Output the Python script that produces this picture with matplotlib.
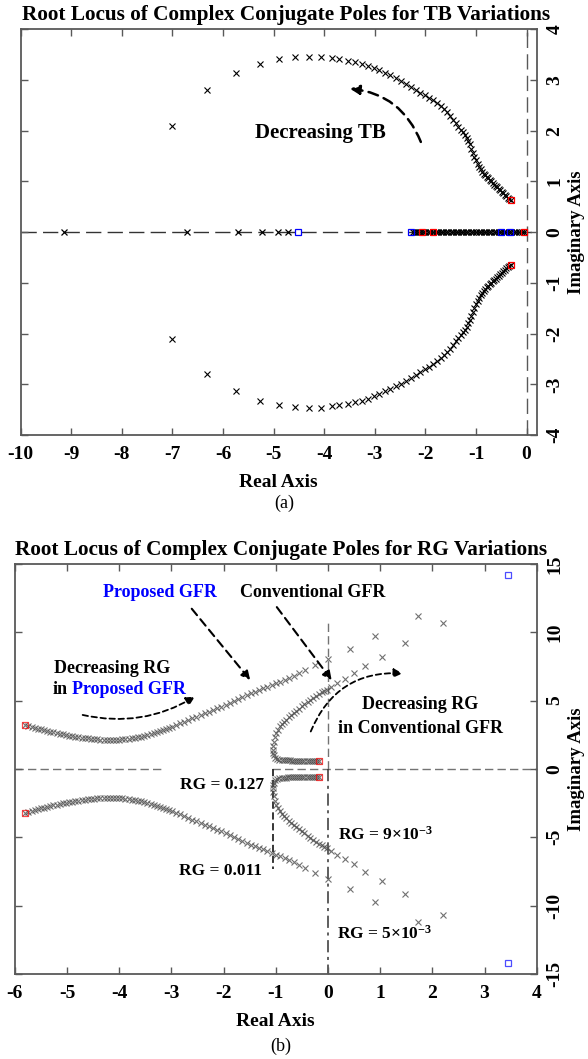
import matplotlib
matplotlib.use('Agg')
import matplotlib.pyplot as plt

plt.rcParams['font.family'] = ['Liberation Serif', 'DejaVu Serif']
plt.rcParams['font.weight'] = 'bold'
plt.rcParams['axes.labelweight'] = 'bold'
plt.rcParams['axes.unicode_minus'] = False
plt.rcParams['mathtext.fontset'] = 'custom'
plt.rcParams['mathtext.rm'] = 'Liberation Serif:bold'
plt.rcParams['mathtext.bf'] = 'Liberation Serif:bold'
plt.rcParams['mathtext.default'] = 'rm'

# ---------- (a) TB variations: upper complex branch (lower one is its conjugate)
tb_re = [-0.31, -0.34, -0.37, -0.40, -0.43, -0.46, -0.49, -0.52, -0.55, -0.58,
         -0.61, -0.64, -0.67, -0.70, -0.73, -0.76, -0.79, -0.82, -0.85, -0.88,
         -0.91, -0.94, -0.97, -1.00, -1.03, -1.06, -1.09, -1.12, -1.15, -1.18,
         -1.22, -1.26, -1.30, -1.35, -1.40, -1.45, -1.51, -1.57, -1.63, -1.70,
         -1.77, -1.85, -1.93, -2.01, -2.10, -2.19, -2.28, -2.38, -2.48, -2.58,
         -2.69, -2.80, -2.91, -3.02, -3.14, -3.26, -3.39, -3.53, -3.70, -3.85,
         -4.06, -4.29, -4.57, -4.90, -5.27, -5.75, -6.31, -7.01]
tb_im = [0.64, 0.66, 0.68, 0.71, 0.74, 0.77, 0.80, 0.83, 0.86, 0.89,
         0.92, 0.94, 0.97, 1.00, 1.03, 1.06, 1.09, 1.12, 1.15, 1.19,
         1.24, 1.29, 1.35, 1.42, 1.49, 1.57, 1.65, 1.73, 1.80, 1.86,
         1.92, 1.97, 2.02, 2.08, 2.15, 2.22, 2.30, 2.37, 2.43, 2.49,
         2.54, 2.60, 2.65, 2.70, 2.75, 2.81, 2.87, 2.93, 2.99, 3.04,
         3.09, 3.14, 3.19, 3.23, 3.28, 3.32, 3.35, 3.38, 3.41, 3.43,
         3.46, 3.46, 3.45, 3.41, 3.32, 3.13, 2.80, 2.10]
# real poles
tb_real = [-9.15, -6.72, -5.70, -5.22, -4.92, -4.71,
           -2.25, -2.20, -2.15, -2.10, -2.05, -2.00, -1.95, -1.90, -1.85, -1.80,
           -1.75, -1.70, -1.65, -1.60, -1.55, -1.50, -1.45, -1.40, -1.35, -1.30,
           -1.25, -1.20, -1.15, -1.10, -1.05, -1.00, -0.95, -0.90, -0.85, -0.80,
           -0.75, -0.70, -0.65, -0.60, -0.55, -0.50, -0.45, -0.40, -0.35, -0.30,
           -0.25, -0.20, -0.15, -0.10, -0.05]
tb_red_re = [-0.31, -0.31, -2.07, -1.85, -0.05]
tb_red_im = [0.64, -0.64, 0.0, 0.0, 0.0]
tb_blue_re = [-4.51, -2.28, -0.51, -0.33]
tb_blue_im = [0.0, 0.0, 0.0, 0.0]

# ---------- (b) RG variations: upper branches
prop_re = [-5.80, -5.74, -5.68, -5.62, -5.56, -5.50, -5.44, -5.38, -5.32, -5.26,
           -5.20, -5.14, -5.08, -5.02, -4.96, -4.90, -4.84, -4.78, -4.72, -4.66,
           -4.60, -4.54, -4.48, -4.42, -4.36, -4.30, -4.24, -4.18, -4.12, -4.06,
           -4.00, -3.94, -3.88, -3.82, -3.76, -3.70, -3.64, -3.58, -3.52, -3.46,
           -3.40, -3.34, -3.28, -3.22, -3.16, -3.10, -3.04, -2.98, -2.91, -2.84,
           -2.76, -2.68, -2.60, -2.52, -2.44, -2.36, -2.28, -2.20, -2.12, -2.04,
           -1.96, -1.88, -1.80, -1.72, -1.64, -1.56, -1.48, -1.40, -1.32, -1.24,
           -1.16, -1.08, -1.00, -0.92, -0.83, -0.74, -0.66, -0.55, -0.44, -0.25,
           0.01, 0.42, 0.90, 1.73]
prop_im = [3.22, 3.15, 3.08, 3.01, 2.95, 2.89, 2.83, 2.77, 2.72, 2.67,
           2.62, 2.57, 2.52, 2.48, 2.44, 2.40, 2.36, 2.32, 2.29, 2.26,
           2.23, 2.20, 2.18, 2.16, 2.14, 2.13, 2.12, 2.12, 2.12, 2.13,
           2.14, 2.16, 2.18, 2.21, 2.24, 2.28, 2.32, 2.37, 2.42, 2.48,
           2.54, 2.61, 2.68, 2.76, 2.84, 2.92, 3.01, 3.10, 3.20, 3.33,
           3.46, 3.59, 3.71, 3.83, 3.95, 4.07, 4.20, 4.32, 4.44, 4.56,
           4.68, 4.80, 4.95, 5.10, 5.26, 5.41, 5.53, 5.65, 5.77, 5.89,
           6.01, 6.13, 6.26, 6.38, 6.53, 6.66, 6.79, 7.01, 7.23, 7.60,
           8.08, 8.81, 9.71, 11.22]
conv_re = [-0.17, -0.21, -0.25, -0.29, -0.33, -0.37, -0.41, -0.45, -0.49, -0.53,
           -0.57, -0.61, -0.65, -0.69, -0.73, -0.77, -0.81, -0.85, -0.89, -0.93,
           -0.97, -1.01, -1.04, -1.06, -1.06, -1.05, -1.04, -1.02, -0.99, -0.96,
           -0.92, -0.88, -0.84, -0.80, -0.75, -0.70, -0.66, -0.61, -0.56, -0.50,
           -0.45, -0.39, -0.34, -0.28, -0.23, -0.18, -0.12, -0.07, -0.02, 0.06,
           0.17, 0.33, 0.49, 0.71, 1.03, 1.48, 2.21]
conv_im = [0.60, 0.60, 0.60, 0.60, 0.60, 0.60, 0.60, 0.60, 0.60, 0.60,
           0.61, 0.61, 0.61, 0.61, 0.62, 0.62, 0.63, 0.64, 0.66, 0.69,
           0.73, 0.80, 1.00, 1.20, 1.41, 1.70, 2.00, 2.35, 2.63, 2.85,
           3.11, 3.30, 3.45, 3.60, 3.78, 3.95, 4.08, 4.24, 4.40, 4.57,
           4.72, 4.90, 5.05, 5.22, 5.35, 5.47, 5.60, 5.70, 5.78, 6.00,
           6.26, 6.58, 6.99, 7.52, 8.20, 9.18, 10.68]
rg_red_re = [-5.80, -5.80, -0.17, -0.17]
rg_red_im = [3.22, -3.22, 0.57, -0.57]
rg_blue_re = [3.45, 3.45]
rg_blue_im = [14.2, -14.2]

fig = plt.figure(figsize=(5.88, 10.59), dpi=100)
ax1 = fig.add_axes([0.0349, 0.5892, 0.8779, 0.3831])
ax2 = fig.add_axes([0.0252, 0.0803, 0.8876, 0.3872])


def style_axes(ax, xticks, yticks):
    ax.set_xticks(xticks)
    ax.set_yticks(yticks)
    ax.tick_params(direction='in', top=True, bottom=True, left=True, right=True,
                   labelleft=False, labelright=True, length=5, width=1,
                   color='0.35', labelsize=14)
    ax.tick_params(axis='x', pad=8)
    ax.tick_params(axis='y', labelrotation=90, pad=7)
    for lab in ax.get_yticklabels():
        lab.set_va('center')
    for s in ax.spines.values():
        s.set_color('0.35')
        s.set_linewidth(1.3)
    ax.yaxis.set_label_position('right')
    ax.set_xlabel('Real Axis', fontsize=14, fontweight='bold', labelpad=8)
    ax.set_ylabel('Imaginary Axis', fontsize=13.5, fontweight='bold',
                  rotation=90, labelpad=3)


# ---------------- (a)
ax1.axhline(0, color='0.2', lw=1, dashes=(11, 4.5), zorder=1)
ax1.axvline(0, color='0.35', lw=1, dashes=(11, 4.5), zorder=1)
ax1.plot(tb_re, tb_im, 'x', color='k', ms=4.8, mew=0.8)
ax1.plot(tb_re, [-v for v in tb_im], 'x', color='k', ms=4.8, mew=0.8)
ax1.plot(tb_real, [0] * len(tb_real), 'x', color='k', ms=4.8, mew=0.9)
ax1.plot(tb_red_re, tb_red_im, 's', mfc='none', mec='red', ms=5, mew=0.9)
ax1.plot(tb_blue_re, tb_blue_im, 's', mfc='none', mec='blue', ms=5, mew=0.9)
ax1.set_xlim(-10, 0.2)
ax1.set_ylim(-4, 4)
style_axes(ax1, range(-10, 1), range(-4, 5))
ax1.text(-4.08, 1.95, 'Decreasing TB', fontsize=15, ha='center', va='center')
ax1.annotate('', xy=(-3.49, 2.83), xytext=(-2.09, 1.78),
             arrowprops=dict(arrowstyle='-|>', linestyle=(0, (4, 2.5)), lw=1.8,
                             color='k', mutation_scale=14, shrinkA=0, shrinkB=0,
                             connectionstyle='arc3,rad=0.3'))
fig.text(0.486, 1 - 15 / 1059, 'Root Locus of Complex Conjugate Poles for TB Variations',
         fontsize=15.3, ha='center', va='center')
fig.text(0.483, 1 - 503 / 1059, '(a)', fontsize=13, fontweight='normal',
         ha='center', va='center')

# ---------------- (b)
ax2.plot([-6, -3.2], [0, 0], color='0.45', lw=1, dashes=(6, 3), zorder=1)
ax2.plot([-1.08, 4], [0, 0], color='0.45', lw=1, dashes=(6, 3), zorder=1)
ax2.plot([0, 0], [0, 10.75], color='0.45', lw=1, dashes=(6, 3), zorder=1)
ax2.plot([0, 0], [0, -15], color='0.2', lw=1.1, dashes=(8, 3, 2, 3), zorder=1)
ax2.plot([-1.05, -1.05], [0, -7.33], color='0.15', lw=1.3, dashes=(4, 2), zorder=1)
mk = dict(color='0.3', ms=4.5, mew=0.8, alpha=0.8)
ax2.plot(prop_re, prop_im, 'x', **mk)
ax2.plot(prop_re, [-v for v in prop_im], 'x', **mk)
ax2.plot(conv_re, conv_im, 'x', **mk)
ax2.plot(conv_re, [-v for v in conv_im], 'x', **mk)
ax2.plot(rg_red_re, rg_red_im, 's', mfc='none', mec='red', ms=5, mew=0.9, alpha=0.7)
ax2.plot(rg_blue_re, rg_blue_im, 's', mfc='none', mec='blue', ms=5, mew=0.9, alpha=0.7)
ax2.set_xlim(-6, 4)
ax2.set_ylim(-15, 15)
style_axes(ax2, range(-6, 5), range(-15, 16, 5))

fs = 13
ax2.text(-3.22, 12.94, 'Proposed GFR', color='blue', fontsize=fs, ha='center', va='center')
ax2.text(-0.29, 12.94, 'Conventional GFR', fontsize=fs, ha='center', va='center')
ax2.text(-4.13, 7.36, 'Decreasing RG', fontsize=fs, ha='center', va='center')
t_in = ax2.text(-5.28, 5.78, 'in', fontsize=fs, ha='left', va='center')
ax2.annotate('Proposed GFR', xy=(1, 0), xycoords=t_in, xytext=(3.5, 0),
             textcoords='offset points', color='blue', fontsize=fs,
             ha='left', va='bottom')
ax2.text(1.77, 4.68, 'Decreasing RG', fontsize=fs, ha='center', va='center')
ax2.text(1.77, 2.99, 'in Conventional GFR', fontsize=fs, ha='center', va='center')
fs2 = 12.5
ax2.text(-1.22, -1.14, 'RG = 0.127', fontsize=fs2, ha='right', va='center')
ax2.text(-1.27, -7.46, 'RG = 0.011', fontsize=fs2, ha='right', va='center')
ax2.text(0.20, -4.79, r'RG = 9×10$^{-3}$', fontsize=fs2, ha='left', va='center')
ax2.text(0.17, -12.07, r'RG = 5×10$^{-3}$', fontsize=fs2, ha='left', va='center')

arrow = dict(arrowstyle='-|>', linestyle=(0, (4, 2.5)), lw=1.5, color='k',
             mutation_scale=13, shrinkA=0, shrinkB=0)
ax2.annotate('', xy=(-1.49, 6.50), xytext=(-2.61, 11.72), arrowprops=arrow)
ax2.annotate('', xy=(0.07, 6.50), xytext=(-0.98, 11.84), arrowprops=arrow)
ax2.annotate('', xy=(-2.55, 5.29), xytext=(-4.70, 3.95),
             arrowprops=dict(arrow, linestyle=(0, (3, 2)), lw=1.3,
                             connectionstyle='arc3,rad=0.2'))
ax2.annotate('', xy=(1.43, 6.99), xytext=(-0.33, 2.74),
             arrowprops=dict(arrow, linestyle=(0, (3, 2)), lw=1.3,
                             connectionstyle='arc3,rad=-0.35'))
fig.text(0.478, 1 - 550 / 1059, 'Root Locus of Complex Conjugate Poles for RG Variations',
         fontsize=15.3, ha='center', va='center')
fig.text(0.478, 1 - 1046 / 1059, '(b)', fontsize=13, fontweight='normal',
         ha='center', va='center')

fig.savefig('out.png', dpi=100)
